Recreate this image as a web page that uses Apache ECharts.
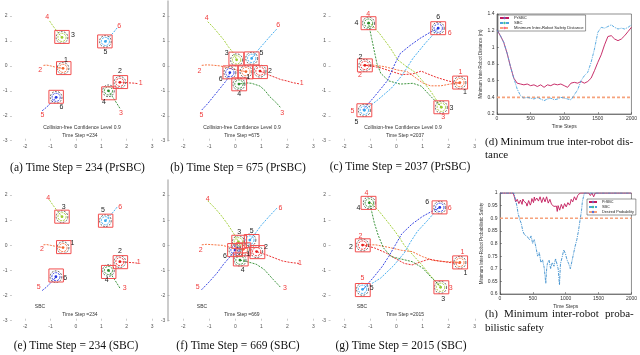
<!DOCTYPE html>
<html><head><meta charset="utf-8">
<script src="https://cdn.jsdelivr.net/npm/echarts@6/dist/echarts.min.js"></script>
<style>html,body{margin:0;padding:0;background:#fff}#c{width:640px;height:355px}</style>
</head><body><div id="c"></div>
<script>
// ================= DATA =================
// Trajectory plots: per robot (1..6) list of [x,y] points; last point = current robot position
const trajA = [
 [[-1.28,0.02],[-1.15,0.03],[-1.0,0.0],[-0.85,-0.04],[-0.7,-0.07],[-0.51,-0.1]],
 [[2.42,-0.71],[2.25,-0.69],[2.05,-0.68],[1.88,-0.66],[1.73,-0.66]],
 [[-1.04,1.8],[-0.92,1.62],[-0.78,1.43],[-0.64,1.25],[-0.55,1.14]],
 [[1.73,-1.7],[1.62,-1.52],[1.48,-1.3],[1.36,-1.12],[1.28,-1.0]],
 [[1.62,1.52],[1.48,1.34],[1.32,1.16],[1.16,0.98]],
 [[-1.33,-1.8],[-1.16,-1.66],[-1.0,-1.5],[-0.88,-1.38],[-0.78,-1.26]]
];
const boxA = [[-0.48,-0.09],[1.75,-0.65],[-0.55,1.16],[1.30,-1.10],[1.14,0.98],[-0.78,-1.24]];
const idLabA = [[-0.39,0.24],[1.73,-0.21],[-0.12,1.24],[1.10,-1.44],[1.16,0.57],[-0.57,-1.66]];
const goalLabA = [[2.55,-0.68],[-1.41,-0.17],[1.77,-1.90],[-1.13,1.97],[-1.32,-1.97],[1.70,1.60]];

const trajB = [
 [[-1.29,0.02],[-1.1,0.04],[-0.9,0.03],[-0.6,0.0],[-0.3,-0.07],[0.05,-0.17],[0.25,-0.2],[0.41,-0.23]],
 [[2.45,-0.72],[2.2,-0.67],[1.97,-0.6],[1.75,-0.55],[1.53,-0.46],[1.3,-0.37],[1.1,-0.28],[0.95,-0.21]],
 [[-1.06,1.77],[-0.85,1.55],[-0.65,1.3],[-0.45,1.05],[-0.27,0.77],[-0.1,0.55],[0.0,0.38],[0.05,0.24]],
 [[1.73,-1.66],[1.55,-1.45],[1.33,-1.24],[1.15,-1.0],[0.95,-0.81],[0.63,-0.7],[0.4,-0.68],[0.14,-0.73]],
 [[1.59,1.47],[1.35,1.2],[1.1,0.9],[0.85,0.6],[0.63,0.3]],
 [[-1.29,-1.77],[-1.05,-1.5],[-0.85,-1.24],[-0.7,-1.05],[-0.53,-0.83],[-0.33,-0.57],[-0.21,-0.27]]
];
const boxB = [[0.40,-0.26],[0.95,-0.25],[0.04,0.29],[0.15,-0.74],[0.63,0.30],[-0.19,-0.26]];
const idLabB = [[0.5,-0.46],[1.33,-0.21],[-0.33,0.53],[0.15,-1.13],[1.01,0.53],[-0.56,-0.53]];
const goalLabB = [[2.55,-0.70],[-1.38,-0.19],[1.80,-1.90],[-1.10,1.90],[-1.30,-1.97],[1.65,1.64]];

const trajC = [
 [[-1.29,0.02],[-0.9,0.03],[-0.46,-0.03],[0.05,-0.17],[0.41,-0.23],[0.7,-0.45],[1.0,-0.68],[1.3,-0.8],[1.7,-0.8],[2.1,-0.72],[2.43,-0.67]],
 [[2.45,-0.72],[1.97,-0.6],[1.53,-0.46],[1.1,-0.28],[0.95,-0.21],[0.6,-0.33],[0.2,-0.35],[-0.2,-0.22],[-0.6,-0.08],[-1.0,0.0],[-1.21,0.02]],
 [[-1.06,1.77],[-0.65,1.3],[-0.27,0.77],[0.05,0.24],[0.35,0.0],[0.7,-0.25],[1.0,-0.6],[1.3,-1.0],[1.55,-1.4],[1.72,-1.66]],
 [[1.73,-1.66],[1.33,-1.24],[0.95,-0.81],[0.63,-0.7],[0.14,-0.73],[-0.3,-0.6],[-0.6,-0.3],[-0.75,0.1],[-0.85,0.6],[-0.95,1.1],[-1.07,1.71]],
 [[1.59,1.47],[1.1,0.9],[0.63,0.3],[0.45,0.0],[0.2,-0.4],[-0.2,-0.9],[-0.7,-1.35],[-1.23,-1.78]],
 [[-1.29,-1.77],[-0.85,-1.24],[-0.53,-0.83],[-0.33,-0.57],[-0.21,-0.27],[-0.05,0.1],[0.15,0.5],[0.5,0.8],[0.9,1.1],[1.3,1.35],[1.60,1.51]]
];
const boxC = [[2.44,-0.67],[-1.21,0.02],[1.72,-1.66],[-1.07,1.71],[-1.23,-1.78],[1.60,1.51]];
const idLabC = [[2.62,-1.07],[-1.38,0.37],[2.11,-1.70],[-1.53,1.73],[-1.53,-2.24],[1.60,1.97]];
const goalLabC = [[2.45,-0.23],[-1.40,-0.37],[1.79,-2.06],[-1.08,2.07],[-1.69,-1.81],[2.04,1.33]];

const trajE = [
 [[-1.28,0.02],[-1.15,0.03],[-1.0,0.0],[-0.85,-0.03],[-0.7,-0.06],[-0.51,-0.09]],
 [[2.42,-0.71],[2.25,-0.69],[2.05,-0.68],[1.88,-0.66],[1.73,-0.65]],
 [[-1.04,1.8],[-0.92,1.62],[-0.78,1.43],[-0.64,1.25],[-0.55,1.14]],
 [[1.73,-1.7],[1.62,-1.52],[1.48,-1.3],[1.36,-1.12],[1.28,-1.0]],
 [[1.62,1.52],[1.48,1.34],[1.32,1.16],[1.16,0.98]],
 [[-1.33,-1.8],[-1.16,-1.66],[-1.0,-1.5],[-0.88,-1.38],[-0.79,-1.25]]
];
const boxE = [[-0.48,-0.07],[1.75,-0.67],[-0.55,1.14],[1.29,-1.06],[1.17,0.98],[-0.78,-1.20]];
const idLabE = [[-0.14,0.10],[1.73,-0.23],[-0.48,1.51],[1.21,-1.38],[1.06,1.40],[-0.42,-1.32]];
const goalLabE = [[2.47,-0.68],[-1.34,-0.16],[1.92,-1.71],[-1.09,1.87],[-1.47,-1.65],[1.74,1.51]];

const trajF = [
 [[-1.29,0.02],[-1.1,0.04],[-0.8,0.02],[-0.5,0.0],[-0.2,-0.08],[0.1,-0.15],[0.31,-0.16]],
 [[2.45,-0.72],[2.1,-0.68],[1.8,-0.62],[1.5,-0.5],[1.2,-0.38],[0.82,-0.25]],
 [[-1.06,1.77],[-0.8,1.5],[-0.55,1.2],[-0.3,0.85],[-0.05,0.45],[0.12,0.14]],
 [[1.73,-1.66],[1.45,-1.35],[1.1,-0.95],[0.8,-0.75],[0.45,-0.65],[0.18,-0.59]],
 [[1.6,1.48],[1.3,1.15],[1.0,0.8],[0.75,0.45],[0.56,0.21]],
 [[-1.3,-1.77],[-1.0,-1.45],[-0.7,-1.1],[-0.45,-0.75],[-0.2,-0.45],[-0.01,-0.19]]
];
const boxF = [[0.31,-0.16],[0.85,-0.27],[0.15,0.14],[0.21,-0.56],[0.63,0.17],[-0.01,-0.19]];
const idLabF = [[0.5,-0.36],[1.18,-0.06],[0.15,0.54],[0.28,-0.98],[0.63,0.58],[-0.40,-0.43]];
const goalLabF = [[2.49,-0.69],[-1.33,-0.19],[1.91,-1.71],[-1.06,1.84],[-1.45,-1.65],[1.74,1.50]];

const trajG = [
 [[-1.29,0.02],[-0.8,0.02],[-0.3,-0.08],[0.2,-0.2],[0.6,-0.25],[1.0,-0.45],[1.4,-0.6],[1.9,-0.65],[2.43,-0.68]],
 [[2.45,-0.72],[2.0,-0.68],[1.6,-0.62],[1.25,-0.55],[0.95,-0.65],[0.6,-0.78],[0.3,-0.72],[0.0,-0.55],[-0.4,-0.3],[-0.85,-0.1],[-1.3,0.01]],
 [[-1.06,1.77],[-0.7,1.4],[-0.35,0.95],[-0.05,0.55],[0.15,0.25],[0.3,0.0],[0.6,-0.35],[0.95,-0.75],[1.3,-1.2],[1.69,-1.67]],
 [[1.73,-1.66],[1.4,-1.35],[1.0,-0.9],[0.6,-0.65],[0.2,-0.55],[-0.2,-0.45],[-0.5,-0.1],[-0.7,0.4],[-0.85,0.9],[-0.95,1.35],[-1.04,1.69]],
 [[1.6,1.48],[1.2,1.0],[0.8,0.55],[0.55,0.15],[0.3,-0.3],[-0.1,-0.8],[-0.6,-1.3],[-1.3,-1.75]],
 [[-1.3,-1.77],[-0.9,-1.3],[-0.55,-0.85],[-0.3,-0.45],[-0.05,0.0],[0.2,0.45],[0.6,0.85],[1.0,1.15],[1.35,1.35],[1.66,1.51]]
];
const boxG = [[2.44,-0.68],[-1.29,0.0],[1.72,-1.67],[-1.07,1.69],[-1.29,-1.78],[1.65,1.51]];
const idLabG = [[2.64,-1.12],[-1.74,-0.06],[1.79,-2.15],[-1.46,1.47],[-0.95,-1.71],[1.18,1.71]];
const goalLabG = [[2.53,-0.25],[-1.38,0.37],[2.08,-1.71],[-1.15,2.07],[-1.30,-1.32],[2.04,1.47]];

const trajTicksX = [-2,-1,0,1,2,3];
const trajTicksY = [-3,-2,-1,0,1,2];

// (d) minimum true inter-robot distance
const dSteps = [0,50,100,150,200,250,300,350,400,450,500,550,600,650,700,750,800,850,900,950,1000,1050,1100,1150,1200,1250,1300,1350,1400,1450,1500,1550,1600,1650,1700,1750,1800,1850,1900,1950,2000];
const dPrSBC = [1.21,1.14,1.06,0.93,0.77,0.63,0.57,0.56,0.55,0.56,0.54,0.55,0.53,0.55,0.52,0.55,0.54,0.56,0.55,0.56,0.54,0.52,0.57,0.58,0.57,0.59,0.57,0.59,0.63,0.72,0.82,0.91,1.03,1.13,1.14,1.10,1.08,1.10,1.14,1.19,1.24];
const dSBC   = [1.21,1.14,1.06,0.93,0.77,0.63,0.50,0.42,0.39,0.40,0.39,0.38,0.40,0.38,0.36,0.38,0.39,0.37,0.38,0.40,0.39,0.38,0.37,0.43,0.49,0.60,0.66,0.70,0.82,0.98,1.18,1.24,1.23,1.25,1.27,1.24,1.22,1.23,1.22,1.24,1.27];
const dSafeDist = 0.4;

// (h) minimum inter-robot probabilistic safety
const hPrSBC = [[0,1],[200,1],[224,0.98],[237,0.965],[249,0.96],[262,0.975],[274,0.971],[287,0.958],[299,0.96],[311,0.972],[323,0.967],[336,0.955],[348,0.976],[361,0.968],[373,0.962],[386,0.975],[398,0.96],[411,0.948],[423,0.954],[436,0.97],[448,0.967],[461,0.952],[473,0.96],[485,0.978],[497,0.974],[510,0.962],[522,0.984],[535,0.97],[547,0.967],[560,0.98],[572,0.987],[585,0.968],[597,0.974],[610,0.985],[622,0.98],[635,0.962],[647,0.967],[660,0.982],[672,0.987],[685,0.965],[697,0.971],[709,0.985],[721,0.98],[734,0.96],[746,0.963],[759,0.975],[771,0.971],[784,0.955],[796,0.954],[809,0.96],[821,0.947],[834,0.952],[846,0.94],[859,0.948],[871,0.927],[884,0.95],[896,0.947],[908,0.932],[920,0.934],[933,0.955],[945,0.95],[958,0.938],[970,0.94],[983,0.958],[995,0.96],[1008,0.945],[1020,0.947],[1033,0.962],[1045,0.967],[1058,0.952],[1070,0.96],[1083,0.975],[1095,0.98],[1107,0.965],[1119,0.971],[1132,0.985],[1144,0.987],[1157,0.972],[1169,0.98],[1182,0.99],[1194,0.993],[1220,1],[1350,1],[1375,0.99],[1400,1],[1425,0.985],[1450,1],[2000,1]];
const hSBC = [[0,1],[210,1],[235,0.975],[260,0.945],[274,0.92],[300,0.895],[323,0.88],[348,0.848],[373,0.835],[398,0.84],[423,0.825],[448,0.815],[473,0.83],[497,0.80],[522,0.815],[547,0.785],[572,0.75],[597,0.765],[622,0.725],[647,0.735],[672,0.705],[697,0.642],[710,0.70],[721,0.72],[746,0.735],[771,0.70],[796,0.725],[821,0.71],[846,0.74],[871,0.745],[885,0.70],[905,0.636],[920,0.72],[945,0.745],[970,0.775],[995,0.76],[1020,0.735],[1045,0.72],[1070,0.70],[1095,0.73],[1119,0.76],[1144,0.79],[1169,0.815],[1194,0.85],[1219,0.894],[1240,0.93],[1254,0.967],[1284,1],[2000,1]];
const hDesired = 0.9;

// ================= STYLE / BUILD =================
const robotColors = ['#f5642c','#e81c1c','#9ccc2e','#2a8a2a','#36a6ee','#2433e0'];
const FONT = 'Liberation Sans';
const grids = [
 {left:6.8, top:1, width:158, height:139.7},
 {left:167.7, top:1, width:158.6, height:139.7},
 {left:328.6, top:1, width:159.2, height:139.7},
 {left:6.8, top:180, width:158, height:140.7},
 {left:167.7, top:180, width:158.6, height:140.7},
 {left:328.6, top:180, width:159.2, height:140.7},
 {left:497, top:14, width:137, height:100, show:true, borderColor:'#444', borderWidth:0.6, backgroundColor:'#fff'},
 {left:500, top:193, width:134, height:101, show:true, borderColor:'#444', borderWidth:0.6, backgroundColor:'#fff'}
];
const xAxes = [], yAxes = [], series = [];
const plainNum = v => String(+v.toFixed(4));

function robotRender(params, api){
  const c = api.coord([api.value(0), api.value(1)]);
  const col = robotColors[api.value(2)];
  const ro = api.size([0.23,0.23])[0];
  const ri = api.size([0.16,0.16])[0];
  return {type:'group', children:[
    {type:'circle', shape:{cx:c[0],cy:c[1],r:ro}, style:{fill:'none', stroke:'#333', lineWidth:0.8, lineDash:[1.8,1.4]}},
    {type:'circle', shape:{cx:c[0],cy:c[1],r:ri}, style:{fill:'none', stroke:col, lineWidth:0.9, lineDash:[2,1]}},
    {type:'circle', shape:{cx:c[0],cy:c[1],r:1.4}, style:{fill:col}}
  ]};
}
function boxRender(params, api){
  const c = api.coord([api.value(0), api.value(1)]);
  const s = api.size([0.57,0.52]);
  return {type:'rect', shape:{x:c[0]-s[0]/2, y:c[1]-s[1]/2, width:s[0], height:s[1]}, style:{fill:'none', stroke:'#f24e4e', lineWidth:1}};
}
function makeLabelRender(color){
  return function(params, api){
    const c = api.coord([api.value(0), api.value(1)]);
    return {type:'text', x:c[0], y:c[1], style:{text:String(api.value(2)+1), fill:color, font:'7px "'+FONT+'"', align:'center', verticalAlign:'middle'}};
  };
}

function trajPlot(gi, traj, boxes, idLab, goalLab, hasLine){
  xAxes.push({gridIndex:gi, type:'value', min:-2.6, max:3.5,
    axisLine:{show:false, onZero:false}, splitLine:{show:false},
    axisTick:{show:true, inside:true, length:2, lineStyle:{color:'#999',width:0.5}, customValues:trajTicksX},
    axisLabel:{fontSize:5, color:'#555', margin:3, fontFamily:FONT, customValues:trajTicksX}});
  yAxes.push({gridIndex:gi, type:'value', min:-3, max:2.6,
    axisLine:{show:hasLine, onZero:false, lineStyle:{color:'#bbb', width:1.5}}, splitLine:{show:false},
    axisTick:{show:true, inside:true, length:2, lineStyle:{color:'#999',width:0.5}, customValues:trajTicksY},
    axisLabel:{fontSize:5, color:'#555', margin:2.5, fontFamily:FONT, customValues:trajTicksY}});
  traj.forEach((pts, r) => {
    series.push({type:'line', xAxisIndex:gi, yAxisIndex:gi, data:pts, symbol:'none', silent:true,
      lineStyle:{color:robotColors[r], width:0.9, type:[2,1.2]}, z:2});
  });
  series.push({type:'custom', xAxisIndex:gi, yAxisIndex:gi, renderItem:robotRender, silent:true, z:3,
    data: traj.map((pts, r) => [pts[pts.length-1][0], pts[pts.length-1][1], r])});
  series.push({type:'custom', xAxisIndex:gi, yAxisIndex:gi, renderItem:boxRender, silent:true, z:4,
    data: boxes.map((b, r) => [b[0], b[1], r])});
  series.push({type:'custom', xAxisIndex:gi, yAxisIndex:gi, renderItem:makeLabelRender('#222'), silent:true, z:5,
    data: idLab.map((p, r) => [p[0], p[1], r])});
  series.push({type:'custom', xAxisIndex:gi, yAxisIndex:gi, renderItem:makeLabelRender('#f03a3a'), silent:true, z:5,
    data: goalLab.map((p, r) => [p[0], p[1], r])});
}
trajPlot(0, trajA, boxA, idLabA, goalLabA, false);
trajPlot(1, trajB, boxB, idLabB, goalLabB, true);
trajPlot(2, trajC, boxC, idLabC, goalLabC, false);
trajPlot(3, trajE, boxE, idLabE, goalLabE, false);
trajPlot(4, trajF, boxF, idLabF, goalLabF, true);
trajPlot(5, trajG, boxG, idLabG, goalLabG, false);

const smallAxisLabel = {fontSize:5, color:'#333', margin:2.5, fontFamily:FONT, formatter:plainNum};
const smallTick = {show:true, inside:true, length:2, lineStyle:{color:'#444', width:0.5}};
// (d)
xAxes.push({gridIndex:6, type:'value', min:0, max:2000, interval:500, axisLine:{onZero:false, lineStyle:{color:'#444',width:0.6}}, axisTick:smallTick, axisLabel:smallAxisLabel, splitLine:{show:false},
  name:'Time Steps', nameLocation:'middle', nameGap:10, nameTextStyle:{fontSize:5, color:'#333', fontFamily:FONT}});
yAxes.push({gridIndex:6, type:'value', min:0.2, max:1.4, interval:0.2, axisLine:{onZero:false, lineStyle:{color:'#444',width:0.6}}, axisTick:smallTick, axisLabel:smallAxisLabel, splitLine:{show:false},
  name:'Minimum Inter-Robot Distance (m)', nameLocation:'middle', nameGap:9, nameTextStyle:{fontSize:4.5, color:'#333', fontFamily:FONT}});
// (h)
xAxes.push({gridIndex:7, type:'value', min:0, max:2000, interval:500, axisLine:{onZero:false, lineStyle:{color:'#444',width:0.6}}, axisTick:smallTick, axisLabel:smallAxisLabel, splitLine:{show:false},
  name:'Time Steps', nameLocation:'middle', nameGap:10, nameTextStyle:{fontSize:5, color:'#333', fontFamily:FONT}});
yAxes.push({gridIndex:7, type:'value', min:0.6, max:1, interval:0.05, axisLine:{onZero:false, lineStyle:{color:'#444',width:0.6}}, axisTick:smallTick, axisLabel:smallAxisLabel, splitLine:{show:false},
  name:'Minimum Inter-Robot Probabilistic Safety', nameLocation:'middle', nameGap:12, nameTextStyle:{fontSize:4.5, color:'#333', fontFamily:FONT}});

const crimson = '#c2185a', sbcBlue = '#4aa3de', safeOrange = '#f6a27c';
series.push({name:'Minimum Inter-Robot Safety Distance', type:'line', xAxisIndex:6, yAxisIndex:6, symbol:'none', silent:true,
  data:[[dSteps[0], dSafeDist],[dSteps[dSteps.length-1], dSafeDist]], lineStyle:{color:safeOrange, width:1.6, type:[3,2]}, z:2});
series.push({name:'PrSBC', type:'line', xAxisIndex:6, yAxisIndex:6, symbol:'none', silent:true,
  data:dSteps.map((s,i)=>[s,dPrSBC[i]]), lineStyle:{color:crimson, width:0.9}, z:3});
series.push({name:'SBC', type:'line', xAxisIndex:6, yAxisIndex:6, symbol:'none', silent:true,
  data:dSteps.map((s,i)=>[s,dSBC[i]]), lineStyle:{color:sbcBlue, width:0.9, type:[3,1,1,1]}, z:3});

series.push({name:'Desired Probability', type:'line', xAxisIndex:7, yAxisIndex:7, symbol:'none', silent:true,
  data:[[0, hDesired],[2000, hDesired]], lineStyle:{color:safeOrange, width:1.6, type:[3,2]}, z:2});
series.push({name:'PrSBC', type:'line', xAxisIndex:7, yAxisIndex:7, symbol:'none', silent:true,
  data:hPrSBC, lineStyle:{color:crimson, width:0.9}, z:3});
series.push({name:'SBC', type:'line', xAxisIndex:7, yAxisIndex:7, symbol:'none', silent:true,
  data:hSBC, lineStyle:{color:'#3d8fce', width:0.9, type:[3,1,1,1]}, z:3});

function txt(x, y, text, size){
  return {type:'text', x:x, y:y, silent:true, style:{text:text, fill:'#333', font:size+'px "'+FONT+'"', align:'center', verticalAlign:'middle'}};
}
function cap(x, y, text, align, size){
  return {type:'text', x:x, y:y, silent:true, style:{text:text, fill:'#111', font:(size||11.5)+'px "Liberation Serif"', align:align||'center', verticalAlign:'middle'}};
}
const graphics = [
  txt(82,128,'Collision-free Confidence Level 0.9',5), txt(80,136,'Time Step =234',5),
  txt(242,128,'Collision-free Confidence Level 0.9',5), txt(242,136,'Time Step =675',5),
  txt(403,128,'Collision-free Confidence Level 0.9',5), txt(405,136,'Time Step =2037',5),
  txt(40,307,'SBC',5), txt(80,315,'Time Step =234',5),
  txt(202,307,'SBC',5), txt(242,315,'Time Step =669',5),
  txt(362,307,'SBC',5), txt(405,315,'Time Step =2015',5),
  cap(77.5,168,'(a) Time Step\u2005=\u2005234 (PrSBC)'),
  cap(238,168,'(b) Time Step\u2005=\u2005675 (PrSBC)'),
  cap(400,167,'(c) Time Step\u2005=\u20052037 (PrSBC)'),
  cap(76,346,'(e) Time Step\u2005=\u2005234 (SBC)'),
  cap(238,346,'(f) Time Step\u2005=\u2005669 (SBC)'),
  cap(401,346,'(g) Time Step\u2005=\u20052015 (SBC)'),
  cap(485,142,'(d) Minimum true inter-robot dis-','left',11),
  cap(485,155,'tance','left',11),
  cap(485,314,'(h)','left',11), cap(504,314,'Minimum','left',11), cap(552,314,'inter-robot','left',11), cap(605,314,'proba-','left',11),
  cap(485,328,'bilistic safety','left',11)
];

const chart = echarts.init(document.getElementById('c'), null, {renderer:'canvas', devicePixelRatio:1});
chart.setOption({
  animation:false,
  backgroundColor:'#fff',
  grid:grids, xAxis:xAxes, yAxis:yAxes, series:series,
  legend:[
    {data:['PrSBC','SBC','Minimum Inter-Robot Safety Distance'], left:498, top:15, orient:'vertical', itemWidth:9, itemHeight:3, itemGap:1, padding:[1,2,1,1],
     textStyle:{fontSize:4.2, color:'#222', fontFamily:FONT}, backgroundColor:'#fff', borderColor:'#333', borderWidth:0.5, selectedMode:false},
    {data:['PrSBC','SBC','Desired Probability'], left:587, top:199, orient:'vertical', itemWidth:8, itemHeight:3, itemGap:1, padding:[1,2,1,1],
     textStyle:{fontSize:3.8, color:'#222', fontFamily:FONT}, backgroundColor:'#fff', borderColor:'#333', borderWidth:0.5, selectedMode:false}
  ],
  graphic:graphics
});
</script></body></html>
